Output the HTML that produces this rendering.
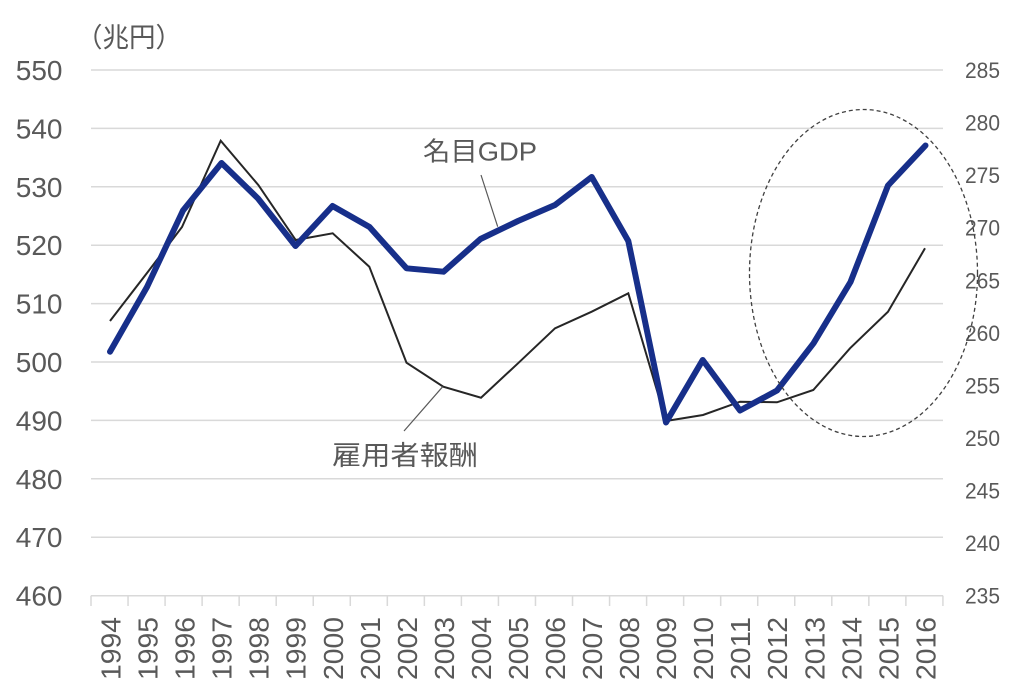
<!DOCTYPE html>
<html>
<head>
<meta charset="utf-8">
<style>
html,body{margin:0;padding:0;background:#fff;}
svg{display:block;}
text{font-family:"Liberation Sans","Noto Sans CJK JP",sans-serif;fill:#595959;}
</style>
</head>
<body>
<svg width="1024" height="693" viewBox="0 0 1024 693" xmlns="http://www.w3.org/2000/svg">
  <!-- unit label -->
  <text x="76" y="47" font-size="27" textLength="106" lengthAdjust="spacingAndGlyphs">（兆円）</text>

  <!-- gridlines -->
  <g stroke="#d9d9d9" stroke-width="1.5">
    <line x1="91" y1="70" x2="943" y2="70"/>
    <line x1="91" y1="128.4" x2="943" y2="128.4"/>
    <line x1="91" y1="186.8" x2="943" y2="186.8"/>
    <line x1="91" y1="245.2" x2="943" y2="245.2"/>
    <line x1="91" y1="303.6" x2="943" y2="303.6"/>
    <line x1="91" y1="362" x2="943" y2="362"/>
    <line x1="91" y1="420.4" x2="943" y2="420.4"/>
    <line x1="91" y1="478.8" x2="943" y2="478.8"/>
    <line x1="91" y1="537.2" x2="943" y2="537.2"/>
    <line x1="91" y1="595.7" x2="943" y2="595.7"/>
  </g>
  <!-- x ticks -->
  <g stroke="#d9d9d9" stroke-width="1.5">
    <line x1="91" y1="595.7" x2="91" y2="606"/>
    <line x1="128.04" y1="595.7" x2="128.04" y2="606"/>
    <line x1="165.08" y1="595.7" x2="165.08" y2="606"/>
    <line x1="202.12" y1="595.7" x2="202.12" y2="606"/>
    <line x1="239.16" y1="595.7" x2="239.16" y2="606"/>
    <line x1="276.2" y1="595.7" x2="276.2" y2="606"/>
    <line x1="313.24" y1="595.7" x2="313.24" y2="606"/>
    <line x1="350.28" y1="595.7" x2="350.28" y2="606"/>
    <line x1="387.32" y1="595.7" x2="387.32" y2="606"/>
    <line x1="424.36" y1="595.7" x2="424.36" y2="606"/>
    <line x1="461.4" y1="595.7" x2="461.4" y2="606"/>
    <line x1="498.44" y1="595.7" x2="498.44" y2="606"/>
    <line x1="535.48" y1="595.7" x2="535.48" y2="606"/>
    <line x1="572.52" y1="595.7" x2="572.52" y2="606"/>
    <line x1="609.56" y1="595.7" x2="609.56" y2="606"/>
    <line x1="646.6" y1="595.7" x2="646.6" y2="606"/>
    <line x1="683.64" y1="595.7" x2="683.64" y2="606"/>
    <line x1="720.68" y1="595.7" x2="720.68" y2="606"/>
    <line x1="757.72" y1="595.7" x2="757.72" y2="606"/>
    <line x1="794.76" y1="595.7" x2="794.76" y2="606"/>
    <line x1="831.8" y1="595.7" x2="831.8" y2="606"/>
    <line x1="868.84" y1="595.7" x2="868.84" y2="606"/>
    <line x1="905.88" y1="595.7" x2="905.88" y2="606"/>
    <line x1="942.92" y1="595.7" x2="942.92" y2="606"/>
  </g>

  <!-- left axis labels -->
  <g font-size="28" text-anchor="end">
    <text x="62.5" y="80">550</text>
    <text x="62.5" y="138.4">540</text>
    <text x="62.5" y="196.8">530</text>
    <text x="62.5" y="255.2">520</text>
    <text x="62.5" y="313.6">510</text>
    <text x="62.5" y="372">500</text>
    <text x="62.5" y="430.4">490</text>
    <text x="62.5" y="488.8">480</text>
    <text x="62.5" y="547.2">470</text>
    <text x="62.5" y="605.7">460</text>
  </g>

  <!-- right axis labels (285..235, step 52.57px) -->
  <g font-size="22">
    <text x="965" y="78" textLength="35" lengthAdjust="spacingAndGlyphs">285</text>
    <text x="965" y="130.6" textLength="35" lengthAdjust="spacingAndGlyphs">280</text>
    <text x="965" y="183.1" textLength="35" lengthAdjust="spacingAndGlyphs">275</text>
    <text x="965" y="235.7" textLength="35" lengthAdjust="spacingAndGlyphs">270</text>
    <text x="965" y="288.3" textLength="35" lengthAdjust="spacingAndGlyphs">265</text>
    <text x="965" y="340.9" textLength="35" lengthAdjust="spacingAndGlyphs">260</text>
    <text x="965" y="393.4" textLength="35" lengthAdjust="spacingAndGlyphs">255</text>
    <text x="965" y="446" textLength="35" lengthAdjust="spacingAndGlyphs">250</text>
    <text x="965" y="498.6" textLength="35" lengthAdjust="spacingAndGlyphs">245</text>
    <text x="965" y="551.1" textLength="35" lengthAdjust="spacingAndGlyphs">240</text>
    <text x="965" y="603.7" textLength="35" lengthAdjust="spacingAndGlyphs">235</text>
  </g>

  <!-- year labels -->
  <g font-size="28" text-anchor="end">
    <text transform="translate(120.5,617) rotate(-90)" textLength="63" lengthAdjust="spacingAndGlyphs">1994</text>
    <text transform="translate(157.6,617) rotate(-90)" textLength="63" lengthAdjust="spacingAndGlyphs">1995</text>
    <text transform="translate(194.6,617) rotate(-90)" textLength="63" lengthAdjust="spacingAndGlyphs">1996</text>
    <text transform="translate(231.6,617) rotate(-90)" textLength="63" lengthAdjust="spacingAndGlyphs">1997</text>
    <text transform="translate(268.7,617) rotate(-90)" textLength="63" lengthAdjust="spacingAndGlyphs">1998</text>
    <text transform="translate(305.7,617) rotate(-90)" textLength="63" lengthAdjust="spacingAndGlyphs">1999</text>
    <text transform="translate(342.8,617) rotate(-90)" textLength="63" lengthAdjust="spacingAndGlyphs">2000</text>
    <text transform="translate(379.8,617) rotate(-90)" textLength="63" lengthAdjust="spacingAndGlyphs">2001</text>
    <text transform="translate(416.8,617) rotate(-90)" textLength="63" lengthAdjust="spacingAndGlyphs">2002</text>
    <text transform="translate(453.9,617) rotate(-90)" textLength="63" lengthAdjust="spacingAndGlyphs">2003</text>
    <text transform="translate(490.9,617) rotate(-90)" textLength="63" lengthAdjust="spacingAndGlyphs">2004</text>
    <text transform="translate(528,617) rotate(-90)" textLength="63" lengthAdjust="spacingAndGlyphs">2005</text>
    <text transform="translate(565,617) rotate(-90)" textLength="63" lengthAdjust="spacingAndGlyphs">2006</text>
    <text transform="translate(602,617) rotate(-90)" textLength="63" lengthAdjust="spacingAndGlyphs">2007</text>
    <text transform="translate(639.1,617) rotate(-90)" textLength="63" lengthAdjust="spacingAndGlyphs">2008</text>
    <text transform="translate(676.1,617) rotate(-90)" textLength="63" lengthAdjust="spacingAndGlyphs">2009</text>
    <text transform="translate(713.2,617) rotate(-90)" textLength="63" lengthAdjust="spacingAndGlyphs">2010</text>
    <text transform="translate(750.2,617) rotate(-90)" textLength="63" lengthAdjust="spacingAndGlyphs">2011</text>
    <text transform="translate(787.2,617) rotate(-90)" textLength="63" lengthAdjust="spacingAndGlyphs">2012</text>
    <text transform="translate(824.3,617) rotate(-90)" textLength="63" lengthAdjust="spacingAndGlyphs">2013</text>
    <text transform="translate(861.3,617) rotate(-90)" textLength="63" lengthAdjust="spacingAndGlyphs">2014</text>
    <text transform="translate(898.4,617) rotate(-90)" textLength="63" lengthAdjust="spacingAndGlyphs">2015</text>
    <text transform="translate(935.4,617) rotate(-90)" textLength="63" lengthAdjust="spacingAndGlyphs">2016</text>
  </g>

  <!-- compensation of employees (thin) -->
  <polyline fill="none" stroke="#262626" stroke-width="2" stroke-linejoin="miter"
    points="110,321 147,273 182,227 220.7,140.7 258.3,185 295.7,240 332.7,233.3 369.3,266.7 406.5,362.7 443.3,386.7 481,397.7 518,363.3 555,328.3 591.7,311.7 628.3,293.3 666,421 703,415 740,401.7 777,402.3 813.3,390 850,348.3 888,311.7 925,248.3"/>

  <!-- nominal GDP (thick) -->
  <polyline fill="none" stroke="#172f8a" stroke-width="6" stroke-linejoin="round" stroke-linecap="round"
    points="110,351.7 147,287 183,210.5 221.5,163 258,198.5 295.5,246 332.5,206 369.5,227 406.5,268.3 443.5,271.7 480.5,239 518,221 555,205 591.7,177 628.3,241 666,422.5 702.7,360 740,410.5 777,390.5 813.5,343.3 850.5,282 888,185.5 925.5,145.5"/>

  <!-- leader lines -->
  <line x1="481" y1="175" x2="497.7" y2="226.7" stroke="#595959" stroke-width="1.2"/>
  <line x1="442.7" y1="386.7" x2="404" y2="431" stroke="#595959" stroke-width="1.2"/>

  <!-- annotations -->
  <text x="423" y="160.5" font-size="26" textLength="114" lengthAdjust="spacingAndGlyphs">名目GDP</text>
  <text x="332" y="465" font-size="27" textLength="146" lengthAdjust="spacingAndGlyphs">雇用者報酬</text>

  <!-- dashed ellipse -->
  <ellipse cx="863.5" cy="273" rx="114" ry="163.5" fill="none" stroke="#404040" stroke-width="1.3" stroke-dasharray="4 3"/>
</svg>
</body>
</html>
